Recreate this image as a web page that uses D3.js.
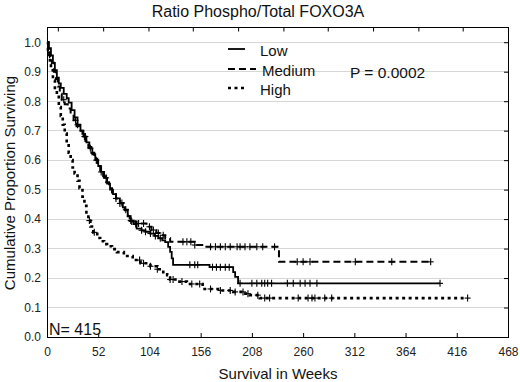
<!DOCTYPE html>
<html><head><meta charset="utf-8">
<script src="https://cdn.jsdelivr.net/npm/d3@7"></script>
<style>body{margin:0;background:#fff}svg{display:block;font-family:Arial,"Liberation Sans",sans-serif}</style>
</head><body><svg id="c" width="520" height="382"></svg>
<script>
// ---- data ----
const title = "Ratio Phospho/Total FOXO3A";
const xTicks = [0,52,104,156,208,260,312,364,416,468];
const yTicks = [0,0.1,0.2,0.3,0.4,0.5,0.6,0.7,0.8,0.9,1.0];
const topTicks = [11,57,103,148,194,240,285,331,377,422];
const seriesNames = ["Low","Medium","High"];

const lowTime = [0,2,4,6,8,10,12,14,17,20,22,25,28,31,34,37,40,43,46,49,52,55,58,61,64,67,70,74,77,79,82,85,88,91,96,100,105,109,113,117,120,123,125,126.6,128,165,189,191,194];
const lowSurv = [1,0.98,0.955,0.93,0.905,0.88,0.86,0.845,0.825,0.81,0.795,0.77,0.745,0.72,0.7,0.68,0.66,0.64,0.62,0.6,0.58,0.56,0.54,0.52,0.5,0.485,0.47,0.453,0.44,0.43,0.41,0.395,0.383,0.368,0.362,0.357,0.351,0.343,0.335,0.328,0.322,0.306,0.289,0.267,0.245,0.237,0.22,0.204,0.182];
const lowEnd = 399;
const lowCensor = [31,39,44,50,55,60,70,74,85,90,96,100,105,110,115,145,150,153,168,172,176,181,185,196,208,213,218,221,224,228,244,250,257,262,267,274,399];

const medTime = [0,1,2,3,5,7,9,11,13,15,18,21,24,27,30,33,36,39,42,45,48,51,54,57,60,63,66,70,74,79,82,84,91,101,106,111,116,120,125,150,160,235.5];
const medSurv = [1,0.98,0.965,0.95,0.93,0.9,0.875,0.85,0.825,0.805,0.79,0.775,0.755,0.735,0.715,0.7,0.68,0.665,0.645,0.625,0.605,0.585,0.565,0.545,0.525,0.505,0.49,0.47,0.455,0.432,0.41,0.392,0.385,0.374,0.363,0.353,0.345,0.335,0.323,0.312,0.306,0.255];
const medEnd = 389.5;
const medCensor = [17,29,38,76,80,86,93,98,104,108,113,118,138,142,146,150,166,171,176,181,186,193,196,201,206,213,219,231,254,260,267,313,350,389.5];

const highTime = [0,1,2,3,4,6,8,10,12,14,16,18,20,22,24,26,28,31,33,36,38,40,42,44,47,51,54,58,61,66,71,78,87,95,105,112,118,122,125,133,142,158,175,189,200,206,216];
const highSurv = [1,0.975,0.95,0.925,0.905,0.87,0.84,0.815,0.78,0.75,0.72,0.69,0.655,0.625,0.6,0.575,0.555,0.53,0.505,0.476,0.445,0.415,0.395,0.375,0.355,0.336,0.325,0.315,0.308,0.298,0.288,0.275,0.261,0.25,0.24,0.23,0.22,0.21,0.195,0.188,0.18,0.163,0.158,0.153,0.147,0.142,0.132];
const highEnd = 427;
const highCensor = [43,48,94,98,105,112,125,128,137,147,155,166,176,186,191,199,204,214,221,226,255,265,269,272,282,289,427];

const pText = "P = 0.0002";
const nText = "N= 415";

// ---- chart ----
const svg = d3.select("#c");
const x = d3.scaleLinear().domain([0,468]).range([47,508]);
const y = d3.scaleLinear().domain([0,1.05]).range([337,27.5]);

// gridlines
svg.append("g").selectAll("line").data(yTicks.filter(d=>d>0)).join("line")
  .attr("x1",x(0)).attr("x2",x(468)).attr("y1",d=>y(d)).attr("y2",d=>y(d))
  .attr("stroke","#d6d6d6").attr("stroke-width",1).attr("shape-rendering","crispEdges");

// axes
const gx = svg.append("g").attr("transform",`translate(0,${y(0)})`)
  .call(d3.axisBottom(x).tickValues(xTicks).tickFormat(d3.format("d")).tickSizeInner(-4).tickSizeOuter(0).tickPadding(10));
const gy = svg.append("g").attr("transform",`translate(${x(0)},0)`)
  .call(d3.axisLeft(y).tickValues(yTicks).tickFormat(d3.format(".1f")).tickSize(0).tickPadding(6));
const gr = svg.append("g").attr("transform",`translate(${x(468)},0)`)
  .call(d3.axisRight(y).tickValues(yTicks).tickFormat("").tickSizeInner(-4).tickSizeOuter(0));
const gt = svg.append("g").attr("transform",`translate(0,${y(1.05)})`)
  .call(d3.axisTop(x).tickValues(topTicks).tickFormat("").tickSizeInner(-4).tickSizeOuter(0));
[gx,gy,gr,gt].forEach(g=>{
  g.select(".domain").remove();
  g.selectAll("text").attr("font-size",12).attr("fill","#222").attr("font-family","Arial, 'Liberation Sans', sans-serif");
  g.selectAll("line").attr("stroke","#000");
});

// frame
svg.append("rect").attr("x",x(0)).attr("y",y(1.05)).attr("width",x(468)-x(0)).attr("height",y(0)-y(1.05))
  .attr("fill","none").attr("stroke","#000").attr("stroke-width",1).attr("shape-rendering","crispEdges");

// curves
const series = [
  {name:seriesNames[0],t:lowTime,s:lowSurv,end:lowEnd,c:lowCensor,dash:null,w:1.8},
  {name:seriesNames[1],t:medTime,s:medSurv,end:medEnd,c:medCensor,dash:"7,4",w:2},
  {name:seriesNames[2],t:highTime,s:highSurv,end:highEnd,c:highCensor,dash:"3,3.5",w:2.6}
];
const line = d3.line().x(d=>x(d[0])).y(d=>y(d[1])).curve(d3.curveStepAfter);
const bis = d3.bisector(d=>d).right;
series.forEach(sr=>{
  const pts = sr.t.map((t,i)=>[t,sr.s[i]]);
  pts.push([sr.end, sr.s[sr.s.length-1]]);
  svg.append("path").attr("d",line(pts)).attr("fill","none").attr("stroke","#000")
    .attr("stroke-width",sr.w).attr("stroke-dasharray",sr.dash);
  const survAt = t => sr.s[Math.max(0,bis(sr.t,t)-1)];
  const g = svg.append("g").attr("stroke","#000").attr("stroke-width",1.1);
  sr.c.forEach(t=>{
    const cx = x(t), cy = y(survAt(t));
    g.append("line").attr("x1",cx).attr("x2",cx).attr("y1",cy-3.5).attr("y2",cy+3.5);
    g.append("line").attr("x1",cx-3).attr("x2",cx+3).attr("y1",cy).attr("y2",cy);
  });
});

// legend
const lg = svg.append("g");
const legY = [49,69,88], legLen = [17,28,17], legTY = [56,75.5,95];
series.forEach((sr,i)=>{
  lg.append("line").attr("x1",228).attr("x2",228+legLen[i]).attr("y1",legY[i]).attr("y2",legY[i])
    .attr("stroke","#000").attr("stroke-width",sr.w).attr("stroke-dasharray",sr.dash);
  lg.append("text").attr("x",i===1?262:260).attr("y",legTY[i]).attr("font-size",15).attr("fill","#111").text(sr.name);
});
svg.append("text").attr("x",350).attr("y",77.5).attr("font-size",15.5).attr("fill","#111").text(pText);
svg.append("text").attr("x",49).attr("y",335).attr("font-size",16).attr("fill","#111").text(nText);

// titles
svg.append("text").attr("x",258).attr("y",17).attr("text-anchor","middle").attr("font-size",16).attr("fill","#111").text(title);
svg.append("text").attr("x",278).attr("y",378.5).attr("text-anchor","middle").attr("font-size",15).attr("fill","#111").text("Survival in Weeks");
svg.append("text").attr("transform","translate(15,183) rotate(-90)").attr("text-anchor","middle").attr("font-size",15).attr("fill","#111").text("Cumulative Proportion Surviving");
</script></body></html>
